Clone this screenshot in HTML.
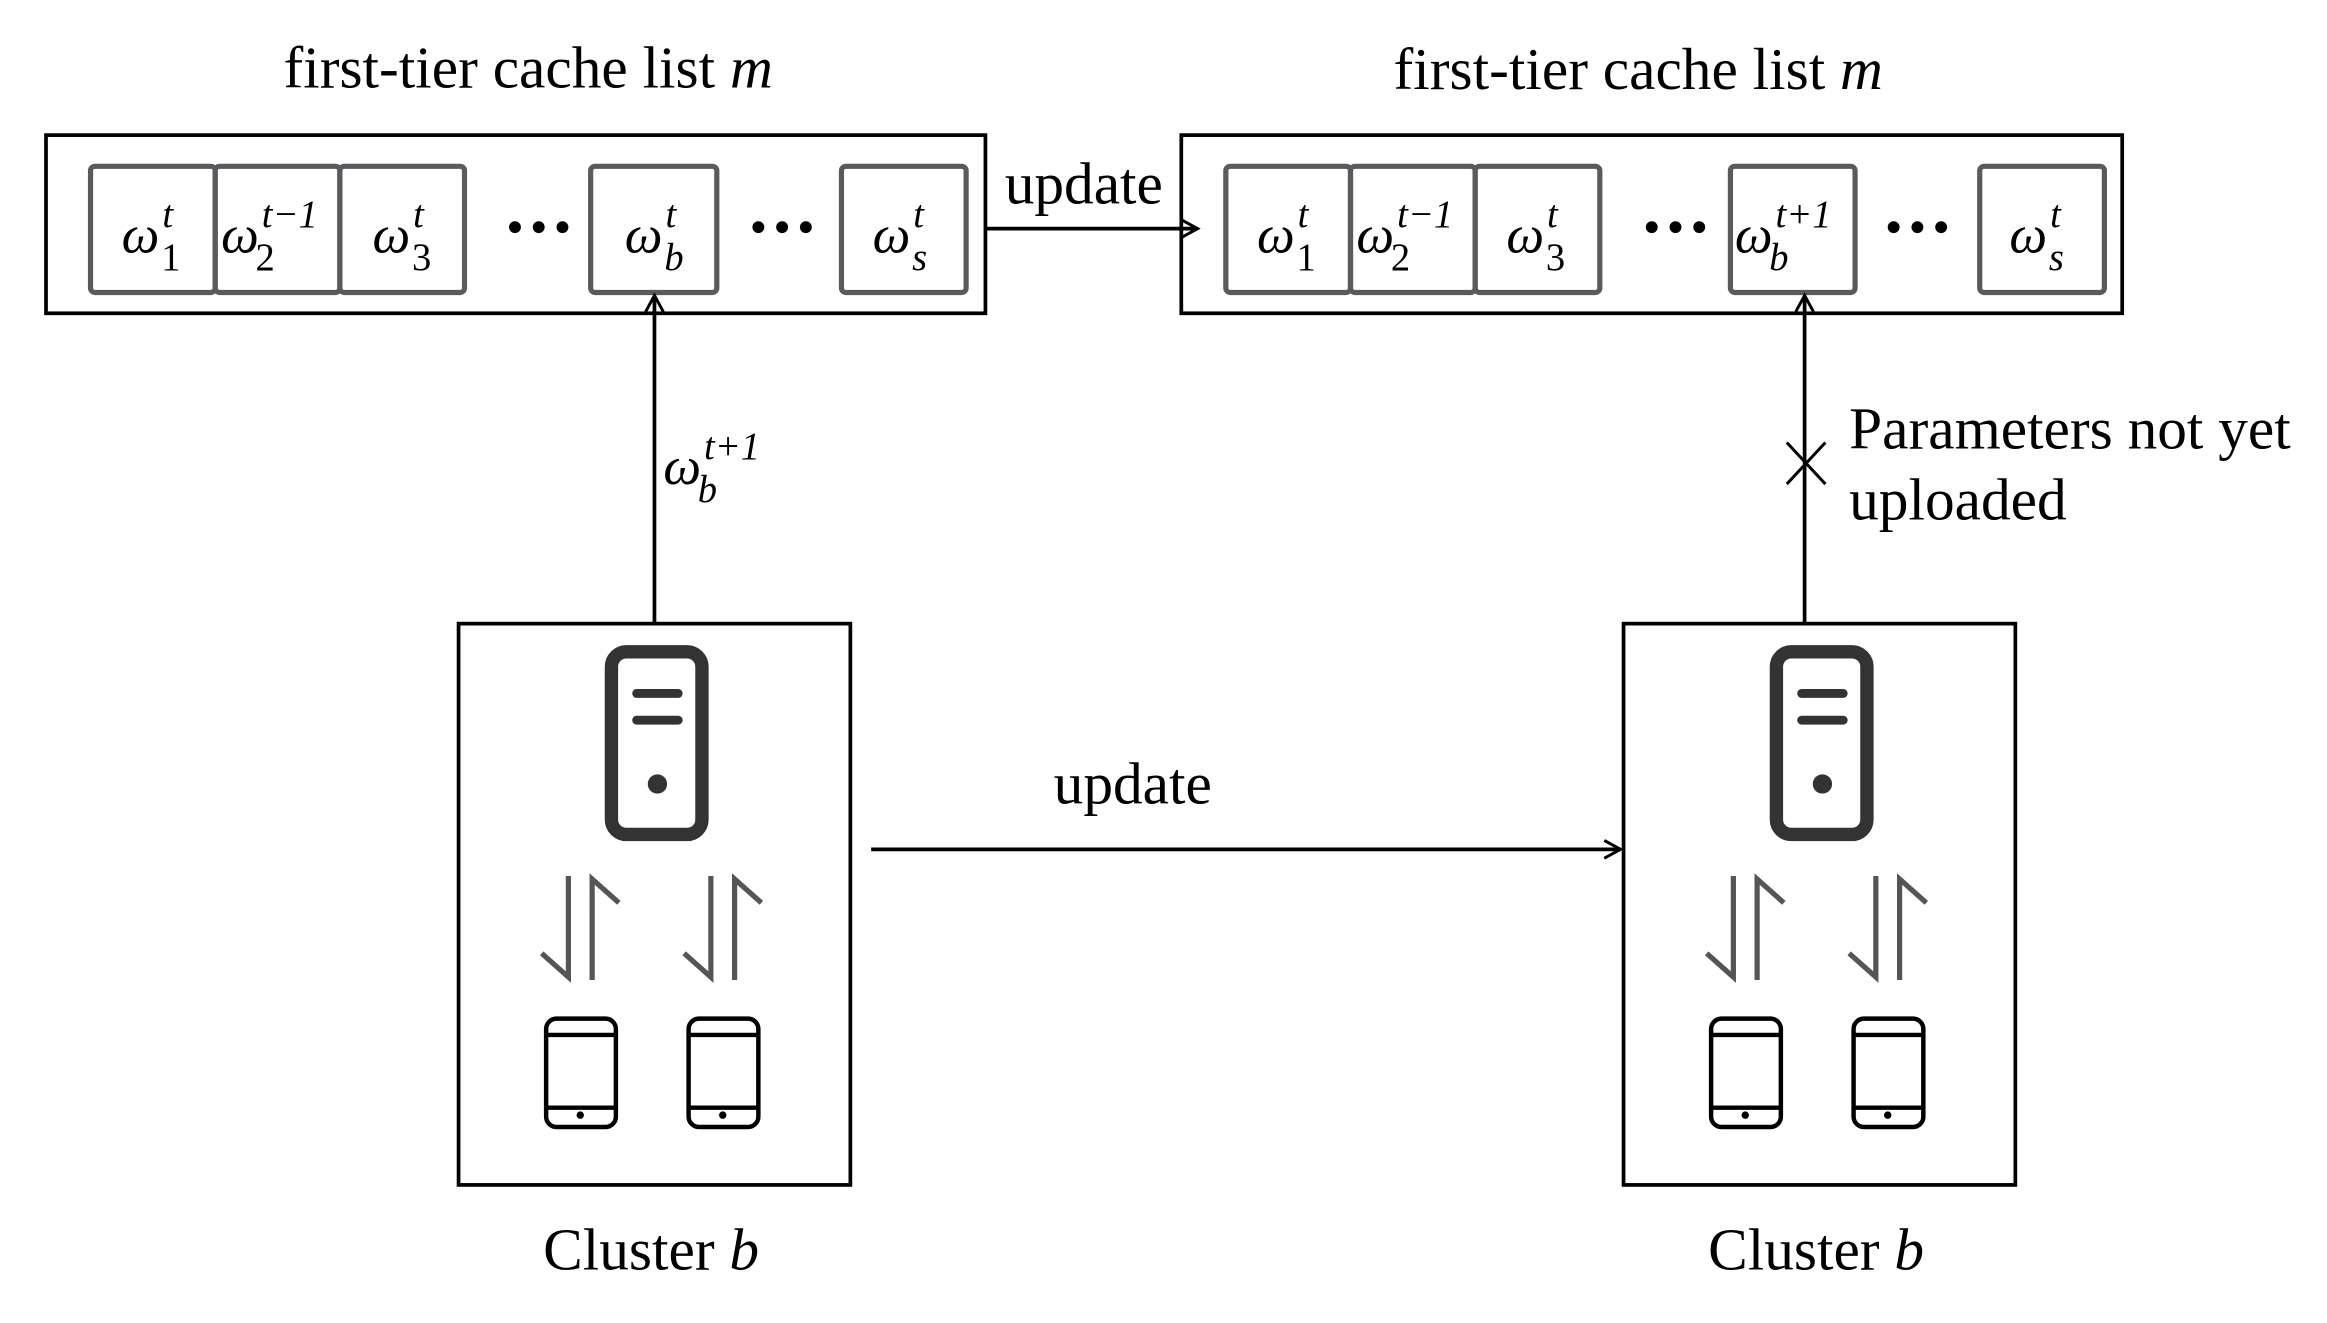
<!DOCTYPE html>
<html><head><meta charset="utf-8"><style>
html,body{margin:0;padding:0;background:#fff;}
svg{display:block;}
text{font-family:"Liberation Serif",serif;fill:#000;}
.m{font-family:"Liberation Serif",serif;font-style:italic;}
</style></head><body>
<svg width="2327" height="1323" viewBox="0 0 1568 891" preserveAspectRatio="none" xmlns="http://www.w3.org/2000/svg">
<defs>
<marker id="ah" markerWidth="14" markerHeight="14" refX="12" refY="7" orient="auto" markerUnits="userSpaceOnUse">
<path d="M1,1 L12,7 L1,13" fill="none" stroke="#000" stroke-width="2"/>
</marker>
<g id="cluster">
<rect x="309" y="420" width="264" height="378" fill="none" stroke="#000" stroke-width="2.5"/>
<rect x="412" y="439" width="61" height="123" rx="10" fill="none" stroke="#333" stroke-width="9"/>
<line x1="429" y1="467" x2="457" y2="467" stroke="#333" stroke-width="6" stroke-linecap="round"/>
<line x1="429" y1="485" x2="457" y2="485" stroke="#333" stroke-width="6" stroke-linecap="round"/>
<circle cx="443" cy="528" r="6.5" fill="#333"/>
<g stroke="#555" stroke-width="3.5" fill="none">
<path d="M383,590 L383,658 L365,642"/>
<path d="M399,660 L399,592 L417,608"/>
<path d="M479,590 L479,658 L461,642"/>
<path d="M495,660 L495,592 L513,608"/>
</g>
<g stroke="#000" stroke-width="3" fill="none">
<rect x="368" y="686" width="47" height="73" rx="7"/>
<line x1="368" y1="697" x2="415" y2="697"/>
<line x1="368" y1="746" x2="415" y2="746"/>
<rect x="464" y="686" width="47" height="73" rx="7"/>
<line x1="464" y1="697" x2="511" y2="697"/>
<line x1="464" y1="746" x2="511" y2="746"/>
</g>
<circle cx="391" cy="751" r="2.5" fill="#000"/>
<circle cx="487" cy="751" r="2.5" fill="#000"/>
<text x="366" y="855" font-size="40">Cluster <tspan class="m">b</tspan></text>
</g>
</defs>

<text x="191" y="59" font-size="40">first-tier cache list <tspan class="m">m</tspan></text>
<text x="939" y="60" font-size="40">first-tier cache list <tspan class="m">m</tspan></text>

<rect x="31" y="91" width="633" height="120" fill="none" stroke="#000" stroke-width="2.5"/>
<g fill="none" stroke="#5a5a5e" stroke-width="3.5">
<rect x="61" y="112" width="84" height="85" rx="3"/>
<rect x="145" y="112" width="84" height="85" rx="3"/>
<rect x="229" y="112" width="84" height="85" rx="3"/>
<rect x="398" y="112" width="85" height="85" rx="3"/>
<rect x="567" y="112" width="84" height="85" rx="3"/>
<rect x="826" y="112" width="84" height="85" rx="3"/>
<rect x="910" y="112" width="84" height="85" rx="3"/>
<rect x="994" y="112" width="84" height="85" rx="3"/>
<rect x="1166" y="112" width="84" height="85" rx="3"/>
<rect x="1334" y="112" width="84" height="85" rx="3"/>
</g>
<g font-size="36">
<text class="m" x="82" y="170">ω<tspan font-size="26" dx="2" dy="-17">t</tspan><tspan font-size="26" dx="-8" dy="29" font-style="normal">1</tspan></text>
<text class="m" x="149" y="170">ω<tspan font-size="26" dx="2" dy="-17">t−1</tspan><tspan font-size="26" dx="-42" dy="29" font-style="normal">2</tspan></text>
<text class="m" x="251" y="170">ω<tspan font-size="26" dx="2" dy="-17">t</tspan><tspan font-size="26" dx="-8" dy="29" font-style="normal">3</tspan></text>
<text class="m" x="421" y="170">ω<tspan font-size="26" dx="2" dy="-17">t</tspan><tspan font-size="26" dx="-8" dy="29">b</tspan></text>
<text class="m" x="588" y="170">ω<tspan font-size="26" dx="2" dy="-17">t</tspan><tspan font-size="26" dx="-8" dy="29">s</tspan></text>

<text class="m" x="847" y="170">ω<tspan font-size="26" dx="2" dy="-17">t</tspan><tspan font-size="26" dx="-8" dy="29" font-style="normal">1</tspan></text>
<text class="m" x="914" y="170">ω<tspan font-size="26" dx="2" dy="-17">t−1</tspan><tspan font-size="26" dx="-42" dy="29" font-style="normal">2</tspan></text>
<text class="m" x="1015" y="170">ω<tspan font-size="26" dx="2" dy="-17">t</tspan><tspan font-size="26" dx="-8" dy="29" font-style="normal">3</tspan></text>
<text class="m" x="1169" y="170">ω<tspan font-size="26" dx="2" dy="-17">t+1</tspan><tspan font-size="26" dx="-42" dy="29">b</tspan></text>
<text class="m" x="1354" y="170">ω<tspan font-size="26" dx="2" dy="-17">t</tspan><tspan font-size="26" dx="-8" dy="29">s</tspan></text>
</g>
<g fill="#000">
<circle cx="347" cy="153" r="4"/><circle cx="363" cy="153" r="4"/><circle cx="379" cy="153" r="4"/>
<circle cx="511" cy="153" r="4"/><circle cx="527" cy="153" r="4"/><circle cx="543" cy="153" r="4"/>
<circle cx="1113" cy="153" r="4"/><circle cx="1129" cy="153" r="4"/><circle cx="1145" cy="153" r="4"/>
<circle cx="1276" cy="153" r="4"/><circle cx="1292" cy="153" r="4"/><circle cx="1308" cy="153" r="4"/>
</g>

<rect x="796" y="91" width="634" height="120" fill="none" stroke="#000" stroke-width="2.5"/>

<line x1="664" y1="154" x2="807" y2="154" stroke="#000" stroke-width="2.5" marker-end="url(#ah)"/>
<text x="677" y="137" font-size="40">update</text>

<line x1="441" y1="420" x2="441" y2="199" stroke="#000" stroke-width="2.5" marker-end="url(#ah)"/>
<text class="m" x="447" y="326" font-size="36">ω<tspan font-size="26" dx="2" dy="-17">t+1</tspan><tspan font-size="26" dx="-42" dy="29">b</tspan></text>
<line x1="1216" y1="420" x2="1216" y2="199" stroke="#000" stroke-width="2.5" marker-end="url(#ah)"/>
<path d="M1204,298 L1230,326 M1230,298 L1204,326" stroke="#000" stroke-width="2"/>
<text x="1246" y="302" font-size="40">Parameters not yet</text>
<text x="1246" y="350" font-size="40">uploaded</text>

<use href="#cluster"/>
<use href="#cluster" transform="translate(785,0)"/>

<line x1="587" y1="572" x2="1092" y2="572" stroke="#000" stroke-width="2.5" marker-end="url(#ah)"/>
<text x="710" y="541" font-size="40">update</text>
</svg>
</body></html>
